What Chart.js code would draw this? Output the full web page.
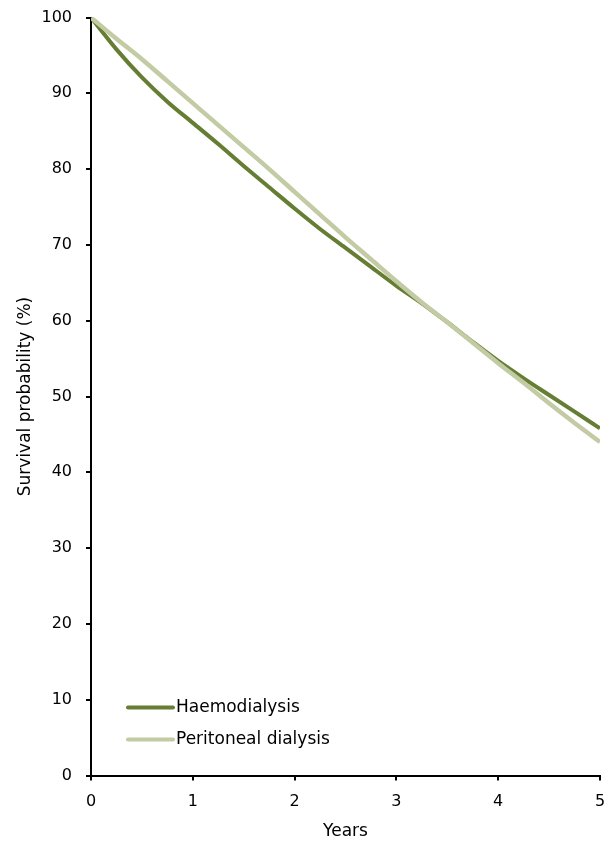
<!DOCTYPE html>
<html>
<head>
<meta charset="utf-8">
<script src="https://cdn.jsdelivr.net/npm/chart.js@4.4.0/dist/chart.umd.min.js"></script>
<style>
  html, body { margin: 0; padding: 0; background: #fff; }
  #wrap { width: 607px; height: 843px; }
</style>
</head>
<body>
<div id="wrap"><canvas id="chart" width="607" height="843"></canvas></div>
<script>
// data
const years = [0, 0.25, 0.5, 0.75, 1, 1.25, 1.5, 1.75, 2, 2.25, 2.5, 2.75, 3, 3.25, 3.5, 3.75, 4, 4.25, 4.5, 4.75, 5];
const haemodialysis = [100, 95.8, 92.1, 88.9, 86.1, 83.3, 80.4, 77.6, 74.8, 72.1, 69.6, 67.1, 64.6, 62.3, 59.8, 57.2, 54.7, 52.4, 50.2, 48.0, 45.8];
const peritoneal = [100, 97.2, 94.5, 91.6, 88.7, 85.8, 82.9, 80.0, 77.0, 74.0, 71.0, 68.1, 65.2, 62.4, 59.8, 57.1, 54.4, 51.8, 49.1, 46.5, 44.0];
const seriesNames = ['Haemodialysis', 'Peritoneal dialysis'];
const seriesColors = ['#667e33', '#c2cba3'];

const FONT = 'DejaVu Sans, Verdana, sans-serif';

function toPoints(values) {
    return years.map((x, i) => ({ x: x, y: values[i] }));
}

// legend drawn inside the plot area, bottom-left
const insideLegend = {
    id: 'insideLegend',
    afterDatasetsDraw(chart) {
        const ctx = chart.ctx;
        const area = chart.chartArea;
        const x0 = area.left + 37;
        const x1 = area.left + 82;
        const rows = [area.bottom - 68, area.bottom - 36];
        ctx.save();
        ctx.font = '17px ' + FONT;
        ctx.textBaseline = 'middle';
        ctx.textAlign = 'left';
        seriesNames.forEach((name, i) => {
            ctx.strokeStyle = seriesColors[i];
            ctx.lineWidth = 4;
            ctx.lineCap = 'round';
            ctx.beginPath();
            ctx.moveTo(x0, rows[i]);
            ctx.lineTo(x1, rows[i]);
            ctx.stroke();
            ctx.fillStyle = '#000';
            ctx.fillText(name, x1 + 3, rows[i]);
        });
        ctx.restore();
    }
};

new Chart(document.getElementById('chart'), {
    type: 'line',
    data: {
        datasets: [
            {
                label: seriesNames[0],
                data: toPoints(haemodialysis),
                borderColor: seriesColors[0],
                borderWidth: 4,
                pointRadius: 0,
                tension: 0.4,
                cubicInterpolationMode: 'monotone',
                order: 2
            },
            {
                label: seriesNames[1],
                data: toPoints(peritoneal),
                borderColor: seriesColors[1],
                borderWidth: 4.5,
                pointRadius: 0,
                tension: 0.4,
                cubicInterpolationMode: 'monotone',
                order: 1
            }
        ]
    },
    options: {
        responsive: false,
        animation: false,
        layout: { padding: { top: 17.5, right: 7, bottom: 0, left: 0 } },
        plugins: { legend: { display: false }, tooltip: { enabled: false } },
        scales: {
            x: {
                type: 'linear',
                min: 0,
                max: 5,
                afterFit: (scale) => {
                    scale.height = 67.5;
                    scale.paddingLeft = 0;
                    scale.paddingRight = 0;
                },
                ticks: { stepSize: 1, color: '#000', padding: 12, font: { family: FONT, size: 16 } },
                grid: { drawOnChartArea: false, drawTicks: true, tickLength: 5, color: '#000', lineWidth: 2 },
                border: { color: '#000', width: 2 },
                title: { display: true, text: 'Years', color: '#000', padding: { top: 0, bottom: 1 }, font: { family: FONT, size: 17 } }
            },
            y: {
                min: 0,
                max: 100,
                afterFit: (scale) => {
                    scale.width = 91;
                    scale.paddingTop = 0;
                    scale.paddingBottom = 0;
                },
                ticks: { stepSize: 10, color: '#000', padding: 14, font: { family: FONT, size: 16 } },
                grid: { drawOnChartArea: false, drawTicks: true, tickLength: 5, color: '#000', lineWidth: 2 },
                border: { color: '#000', width: 2 },
                title: { display: true, text: 'Survival probability (%)', color: '#000', padding: { top: 15, bottom: 0 }, font: { family: FONT, size: 17 } }
            }
        }
    },
    plugins: [insideLegend]
});
</script>
</body>
</html>
